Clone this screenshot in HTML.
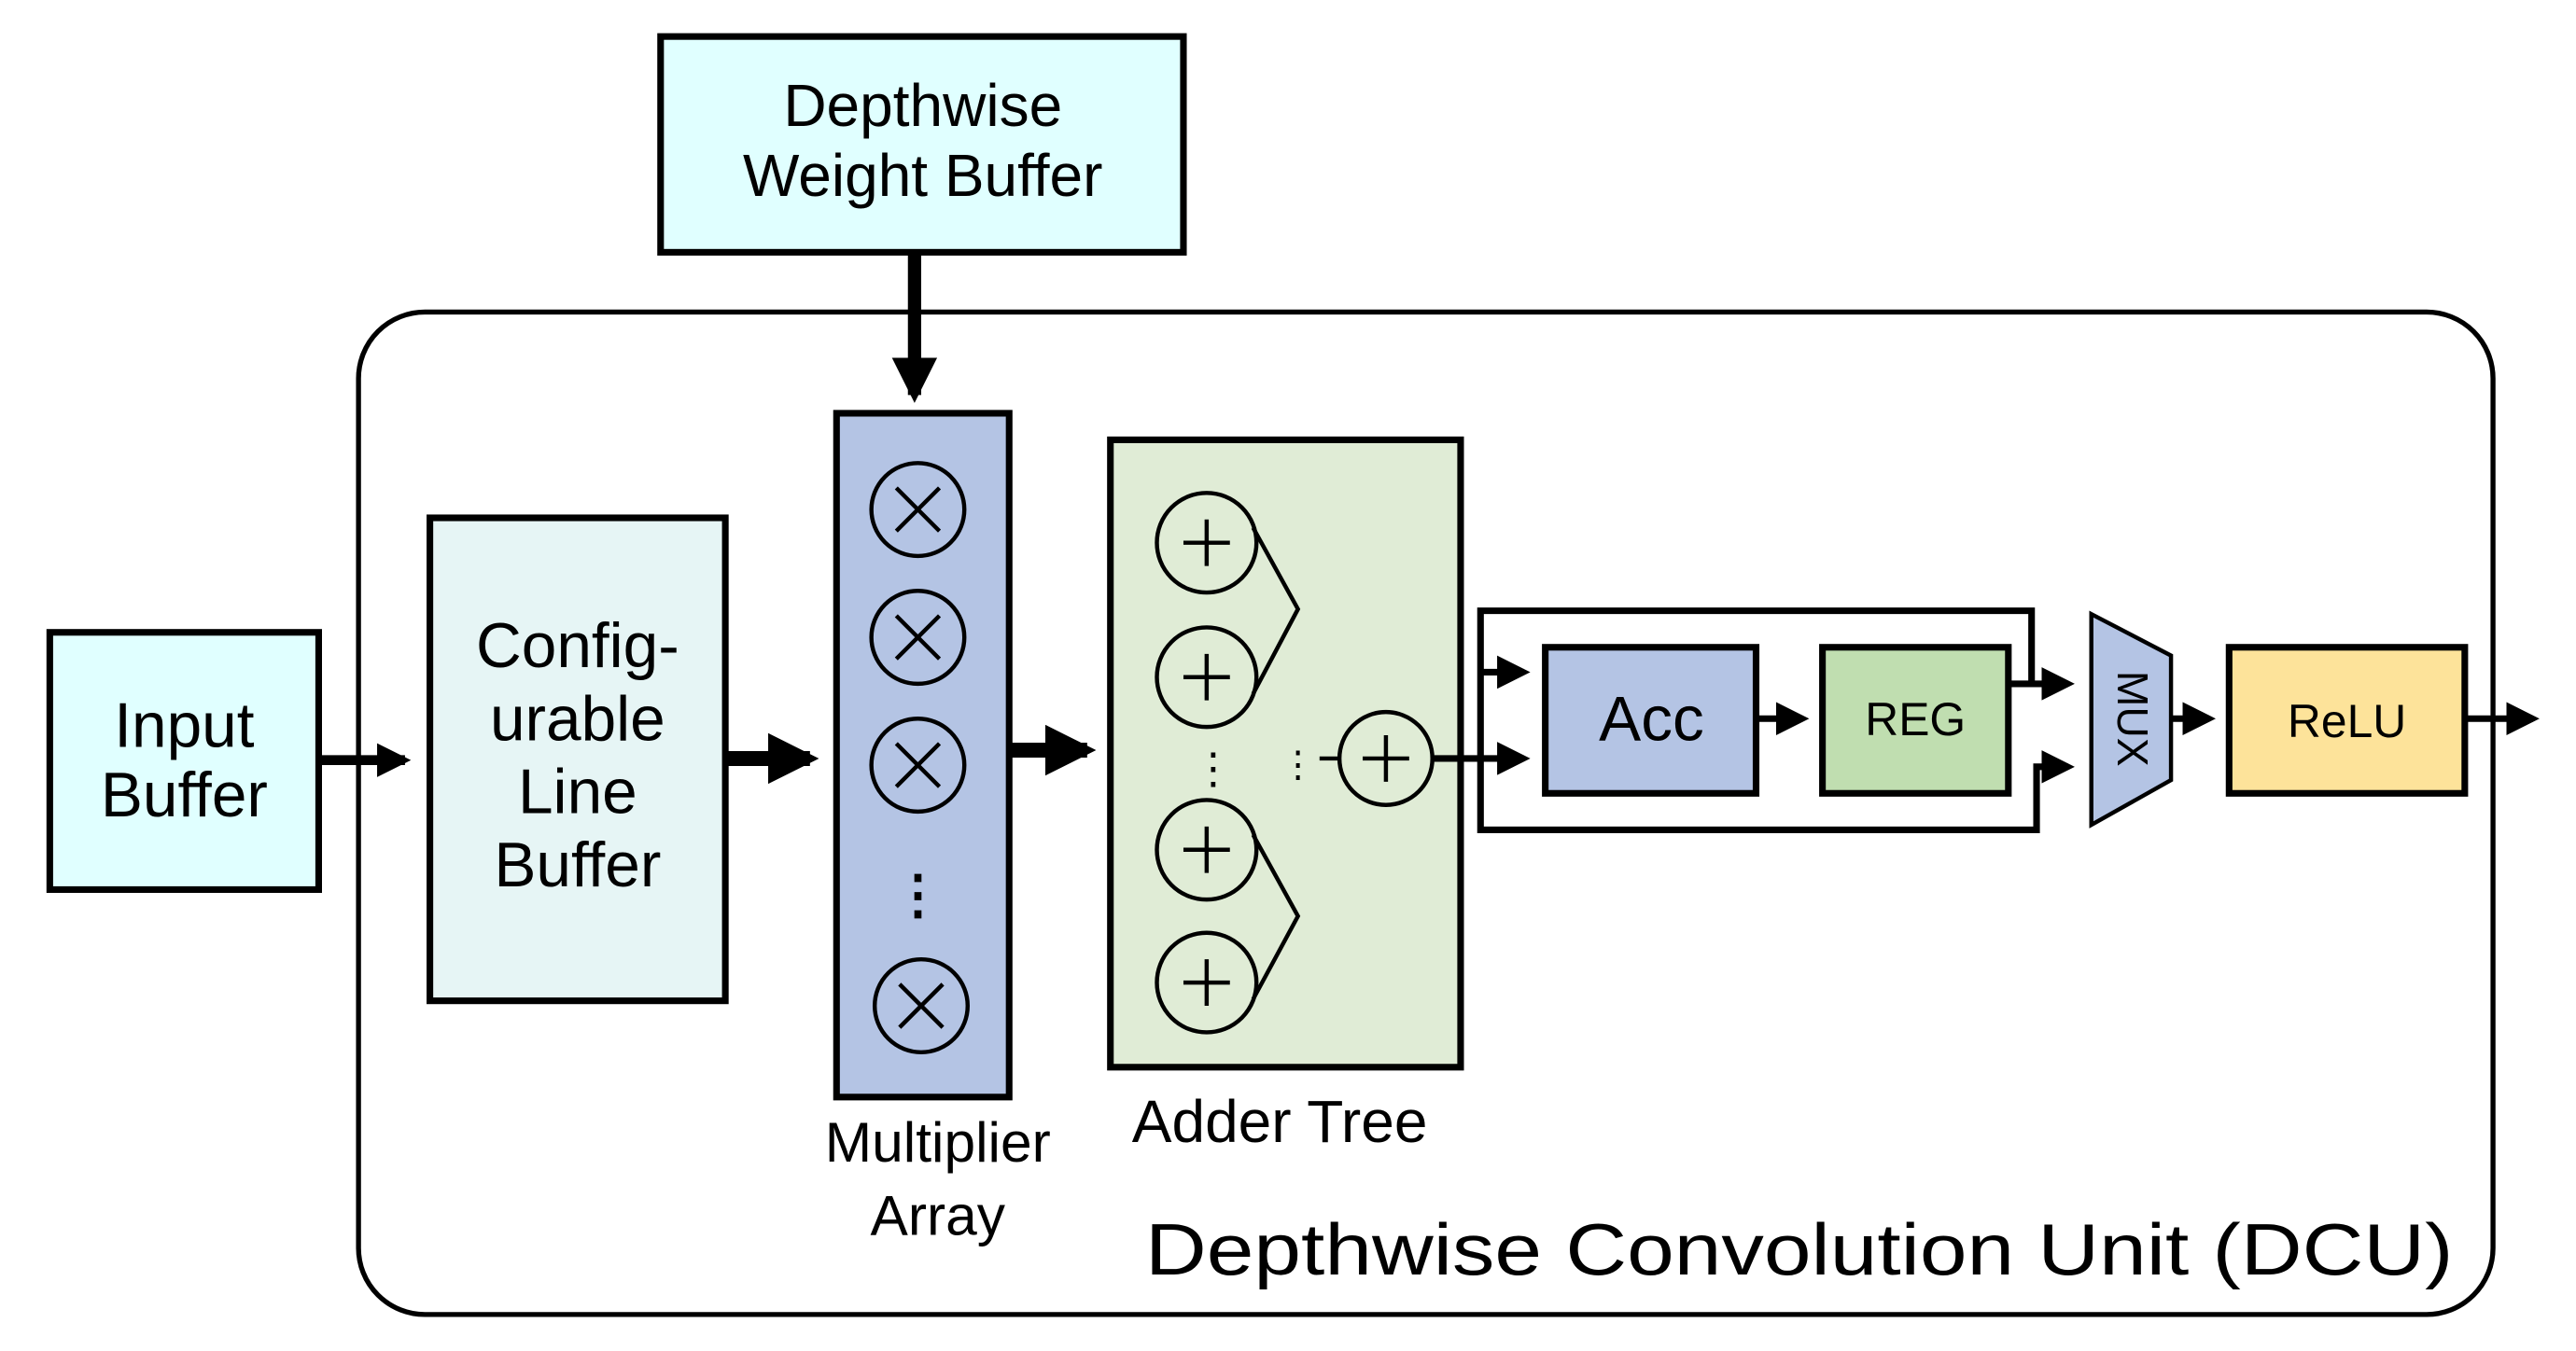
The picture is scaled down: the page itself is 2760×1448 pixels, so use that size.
<!DOCTYPE html>
<html><head><meta charset="utf-8"><style>html,body{margin:0;padding:0;background:#fff}svg{display:block}</style></head><body>
<svg width="2760" height="1448" viewBox="0 0 1552 814" preserveAspectRatio="none" xmlns="http://www.w3.org/2000/svg" font-family="Liberation Sans, sans-serif">
<defs>
<marker id="a" markerWidth="5" markerHeight="5" refX="4" refY="2.5" orient="auto" markerUnits="strokeWidth"><path d="M0,0 L5,2.5 L0,5 z" fill="#000"/></marker>
<marker id="b" markerWidth="3.4" markerHeight="3.4" refX="2.8" refY="1.7" orient="auto" markerUnits="strokeWidth"><path d="M0,0 L3.4,1.7 L0,3.4 z" fill="#000"/></marker>
</defs>
<rect x="216" y="188" width="1286" height="604" rx="40" fill="#fff" stroke="#000" stroke-width="3"/>
<rect x="398" y="22" width="315" height="130" fill="#e0ffff" stroke="#000" stroke-width="4"/>
<text x="556" y="76" font-size="36" text-anchor="middle">Depthwise</text>
<text x="556" y="118" font-size="36" text-anchor="middle">Weight Buffer</text>
<rect x="30" y="381" width="162" height="155" fill="#e0ffff" stroke="#000" stroke-width="4"/>
<text x="111" y="450" font-size="38" text-anchor="middle">Input</text>
<text x="111" y="492" font-size="38" text-anchor="middle">Buffer</text>
<rect x="259" y="312" width="178" height="291" fill="#e6f5f5" stroke="#000" stroke-width="4"/>
<text x="348" y="402" font-size="38" text-anchor="middle">Config-</text>
<text x="348" y="446" font-size="38" text-anchor="middle">urable</text>
<text x="348" y="490" font-size="38" text-anchor="middle">Line</text>
<text x="348" y="534" font-size="38" text-anchor="middle">Buffer</text>
<rect x="504" y="249" width="104" height="412" fill="#b4c4e4" stroke="#000" stroke-width="4"/>
<g fill="none" stroke="#000" stroke-width="2.5">
<circle cx="553" cy="307" r="28"/><circle cx="553" cy="384" r="28"/><circle cx="553" cy="461" r="28"/><circle cx="555" cy="606" r="28"/>
<path d="M540,294 L566,320 M566,294 L540,320 M540,371 L566,397 M566,371 L540,397 M540,448 L566,474 M566,448 L540,474 M542,593 L568,619 M568,593 L542,619"/>
</g>
<text x="553" y="550" font-size="32" text-anchor="middle" font-weight="bold">⋮</text>
<rect x="669" y="265" width="211" height="378" fill="#e0ecd6" stroke="#000" stroke-width="4"/>
<g fill="none" stroke="#000" stroke-width="2.5">
<circle cx="727" cy="327" r="30"/><circle cx="727" cy="408" r="30"/><circle cx="727" cy="512" r="30"/><circle cx="727" cy="592" r="30"/><circle cx="835" cy="457" r="28"/>
<path d="M713,327 h28 M727,313 v28 M713,408 h28 M727,394 v28 M713,512 h28 M727,498 v28 M713,592 h28 M727,578 v28 M821,457 h28 M835,443 v28"/>
<path d="M755,318 L782,367 L755,418 M755,503 L782,552 L755,602"/>
<path d="M795,457 h12"/>
</g>
<text x="731" y="472" font-size="26" text-anchor="middle">⋮</text>
<text x="782" y="468" font-size="22" text-anchor="middle">⋮</text>
<g stroke="#000" fill="none">
<line x1="551" y1="152" x2="551" y2="238" stroke-width="8" marker-end="url(#b)"/>
<line x1="192" y1="458" x2="244" y2="458" stroke-width="6" marker-end="url(#b)"/>
<line x1="437" y1="457" x2="488" y2="457" stroke-width="9" marker-end="url(#b)"/>
<line x1="608" y1="452" x2="655" y2="452" stroke-width="9" marker-end="url(#b)"/>
<path d="M863,457 H918" stroke-width="4" marker-end="url(#a)"/>
<path d="M892,457 V368 H1224 V412" stroke-width="4"/>
<path d="M892,405 H918" stroke-width="4" marker-end="url(#a)"/>
<path d="M892,457 V500 H1227 V462 H1246" stroke-width="4" marker-end="url(#a)"/>
<path d="M1210,412 H1246" stroke-width="4" marker-end="url(#a)"/>
<path d="M1058,433 H1086" stroke-width="4" marker-end="url(#a)"/>
<path d="M1308,433 H1331" stroke-width="4" marker-end="url(#a)"/>
<path d="M1485,433 H1526" stroke-width="4" marker-end="url(#a)"/>
</g>
<rect x="931" y="390" width="127" height="88" fill="#b4c4e4" stroke="#000" stroke-width="4"/>
<text x="995" y="446" font-size="38" text-anchor="middle">Acc</text>
<rect x="1098" y="390" width="112" height="88" fill="#c0deb0" stroke="#000" stroke-width="4"/>
<text x="1154" y="443" font-size="28" text-anchor="middle">REG</text>
<path d="M1260,370 L1308,395 L1308,470 L1260,497 z" fill="#b4c4e4" stroke="#000" stroke-width="2.5"/>
<text x="0" y="0" font-size="26" text-anchor="middle" transform="translate(1276,433) rotate(90)">MUX</text>
<rect x="1343" y="390" width="142" height="88" fill="#fde39a" stroke="#000" stroke-width="4"/>
<text x="1414" y="444" font-size="28" text-anchor="middle">ReLU</text>
<text x="565" y="700" font-size="34" text-anchor="middle">Multiplier</text>
<text x="565" y="744" font-size="34" text-anchor="middle">Array</text>
<text x="771" y="688" font-size="36" text-anchor="middle">Adder Tree</text>
<text x="690" y="768" font-size="44" textLength="788" lengthAdjust="spacingAndGlyphs">Depthwise Convolution Unit (DCU)</text>
</svg>
</body></html>
